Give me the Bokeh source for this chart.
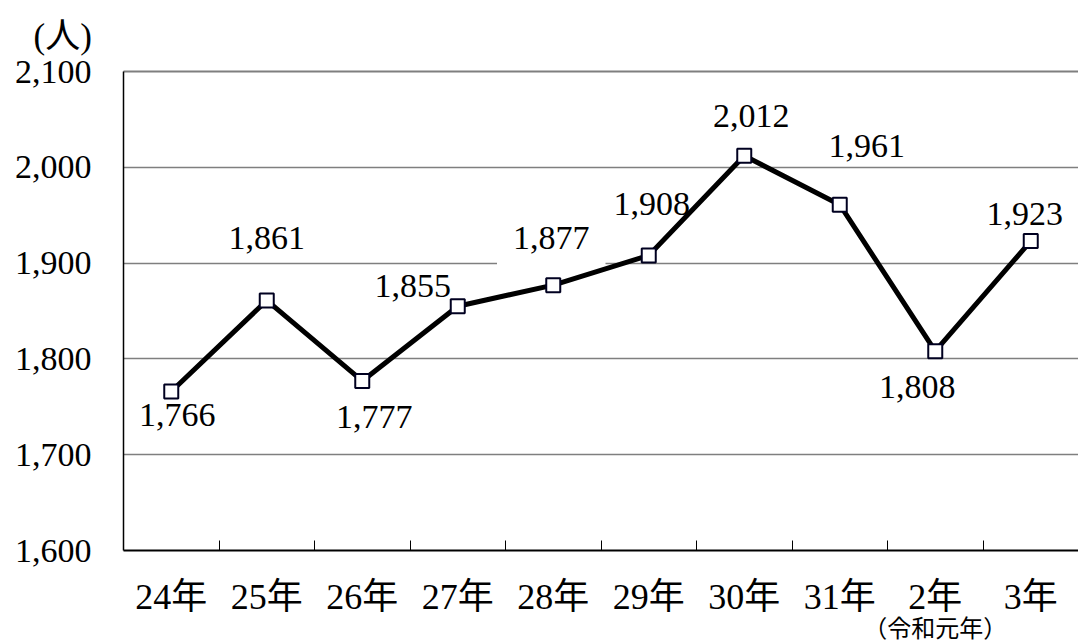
from bokeh.plotting import figure
from bokeh.models import (Range1d, FixedTicker, ColumnDataSource, LabelSet, Label,
                          LinearAxis, Title)
from bokeh.embed import file_html
from bokeh.resources import INLINE

# ---- data ----
categories = ["24年", "25年", "26年", "27年", "28年", "29年", "30年", "31年", "2年", "3年"]
values = [1766, 1861, 1777, 1855, 1877, 1908, 2012, 1961, 1808, 1923]
value_labels = ["1,766", "1,861", "1,777", "1,855", "1,877", "1,908", "2,012", "1,961", "1,808", "1,923"]
y_ticks = [1600, 1700, 1800, 1900, 2000, 2100]
y_tick_labels = ["1,600", "1,700", "1,800", "1,900", "2,000", "2,100"]
unit_label = "(人)"
reiwa_note = "（令和元年）"
reiwa_index = 8

# label placement offsets (px, y up)
lab_dx = [6, 0, 12, -45, -2, 3, 7, 27, -18, -6]
lab_dy = [-24, 62, -36, 20, 47, 51, 40, 59, -36, 27]

FONT = "Liberation Serif, Noto Sans CJK JP"

n = len(categories)
xs = [i + 0.5 for i in range(n)]

p = figure(width=1078, height=644, output_backend="svg", toolbar_location=None,
           x_range=Range1d(0, n), y_range=Range1d(y_ticks[0], y_ticks[-1]),
           min_border_left=123, min_border_right=0, min_border_top=71, min_border_bottom=94)
p.outline_line_color = None
p.background_fill_color = "white"
p.border_fill_color = "white"

# grid
p.xgrid.visible = False
p.ygrid.ticker = FixedTicker(ticks=y_ticks)
p.ygrid.grid_line_color = "#7f7f7f"
p.ygrid.grid_line_width = 1.3

# y axis
ya = p.yaxis[0]
ya.ticker = FixedTicker(ticks=y_ticks)
ya.major_label_overrides = {t: l for t, l in zip(y_ticks, y_tick_labels)}
ya.major_tick_out = 0
ya.major_tick_in = 0
ya.minor_tick_out = 0
ya.minor_tick_in = 0
ya.axis_line_color = "black"
ya.axis_line_width = 1.5
ya.major_label_standoff = 32
ya.major_label_text_font = FONT
ya.major_label_text_font_size = "34px"
ya.major_label_text_color = "black"

# x axis: labels at category centres, tick marks at boundaries
xa = p.xaxis[0]
xa.ticker = FixedTicker(ticks=xs, minor_ticks=list(range(1, n)))
xa.major_label_overrides = {x: c for x, c in zip(xs, categories)}
xa.major_tick_in = 0
xa.major_tick_out = 0
xa.minor_tick_in = 10
xa.minor_tick_out = 0
xa.minor_tick_line_color = "black"
xa.minor_tick_line_width = 1
xa.axis_line_color = "black"
xa.axis_line_width = 2
xa.major_label_standoff = 26
xa.major_label_text_font = FONT
xa.major_label_text_font_size = "36px"
xa.major_label_text_color = "black"

# second row under the category labels: era note
note_axis = LinearAxis(ticker=FixedTicker(ticks=[xs[reiwa_index]]),
                       major_label_overrides={xs[reiwa_index]: reiwa_note},
                       axis_line_color=None, major_tick_in=0, major_tick_out=0,
                       minor_tick_in=0, minor_tick_out=0, major_label_standoff=-4,
                       major_label_text_font=FONT, major_label_text_font_size="24px",
                       major_label_text_color="black")
p.add_layout(note_axis, "below")

# top border line (grey) as an unlabeled axis above the frame
top_axis = LinearAxis(ticker=FixedTicker(ticks=[]), axis_line_color="#7f7f7f",
                      axis_line_width=2, major_tick_in=0, major_tick_out=0,
                      minor_tick_in=0, minor_tick_out=0, major_label_standoff=0,
                      major_label_text_font_size="0px")
p.add_layout(top_axis, "above")

# unit title
p.add_layout(Title(text=unit_label, align="left", offset=-90, standoff=28,
                   vertical_align="top",
                   text_font=FONT, text_font_size="35px", text_font_style="normal",
                   text_color="black"), "above")

src = ColumnDataSource(dict(x=xs, y=values, lab=value_labels, dx=lab_dx, dy=lab_dy))

labels = LabelSet(x="x", y="y", text="lab", x_offset="dx", y_offset="dy", source=src,
                  text_align="center", text_baseline="middle", text_font=FONT,
                  text_font_size="34px", text_color="black", level="underlay")
p.add_layout(labels)

p.line(xs, values, line_color="black", line_width=5)
p.scatter(xs, values, marker="square", size=14, fill_color="white",
          line_color="#000020", line_width=2)

# the 1,877 label box hides the grid line behind it
i877 = 4
box = Label(x=xs[i877], y=values[i877], x_offset=lab_dx[i877], y_offset=lab_dy[i877],
            text=value_labels[i877], text_align="center", text_baseline="middle",
            text_font=FONT, text_font_size="34px", text_color="black",
            background_fill_color="white", background_fill_alpha=1.0, padding=16)
p.add_layout(box)

open("out.html", "w").write(file_html(p, INLINE))
